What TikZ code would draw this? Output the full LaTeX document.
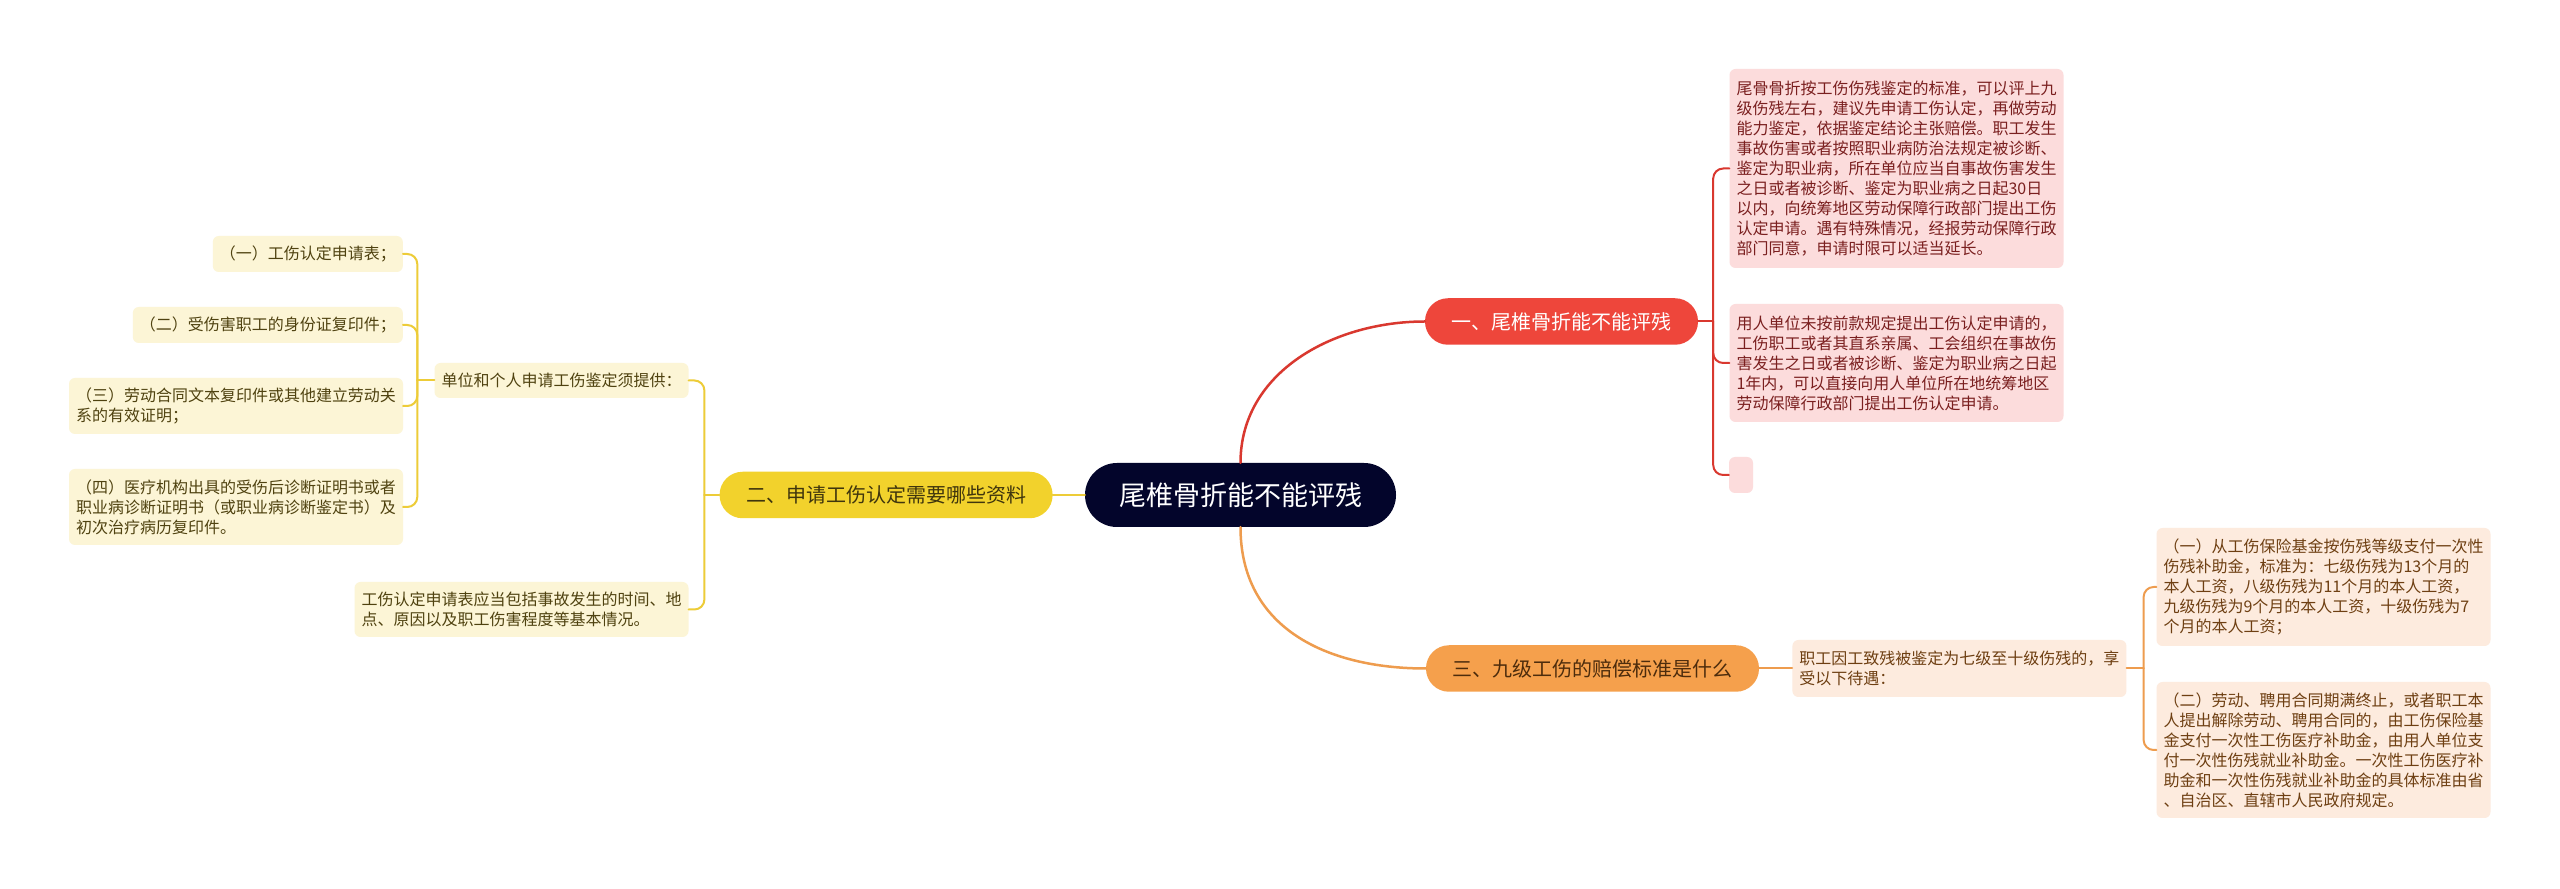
\documentclass[tikz,border=0pt]{standalone}
\usepackage{fontspec}
\setmainfont{Noto Sans CJK SC}
\usepackage{xcolor}
\usetikzlibrary{positioning}

\definecolor{rootbg}{HTML}{03052B}
\definecolor{redbg}{HTML}{EE463B}
\definecolor{redln}{HTML}{D9382F}
\definecolor{redleaf}{HTML}{FCDCDC}
\definecolor{redtx}{HTML}{7A1F1F}
\definecolor{yelbg}{HTML}{F2D22C}
\definecolor{yelln}{HTML}{EDCC38}
\definecolor{yelleaf}{HTML}{FCF5D6}
\definecolor{yeltx}{HTML}{4F4210}
\definecolor{orgbg}{HTML}{F5A04C}
\definecolor{orgln}{HTML}{EE9C4E}
\definecolor{orgleaf}{HTML}{FDEBDE}
\definecolor{orgtx}{HTML}{6E3F12}

\begin{document}
\begin{tikzpicture}[x=1pt, y=1pt, line cap=round,
  rootbox/.style={fill=rootbg, text=white, rounded corners=32pt, minimum width=311pt, minimum height=64pt, inner sep=0pt, font=\fontsize{27}{32}\selectfont},
  topic/.style={rounded corners=23pt, minimum height=46.5pt, inner xsep=26.5pt, inner ysep=0pt, font=\fontsize{20}{24}\selectfont},
  leaf/.style={rounded corners=6pt, inner xsep=7pt, inner ysep=0pt, align=left, font=\fontsize{16}{20}\selectfont},
  redleafbox/.style={leaf, fill=redleaf, text=redtx},
  yelleafbox/.style={leaf, fill=yelleaf, text=yeltx},
  orgleafbox/.style={leaf, fill=orgleaf, text=orgtx},
  branch/.style={line width=2.5pt},
  twig/.style={line width=2pt, rounded corners=10pt}]

\fill[white] (0,0) rectangle (2560,889);
\useasboundingbox (0,0) rectangle (2560,889);

% centre and the three topics
\node[rootbox] (root) at (1240.5,394) {尾椎骨折能不能评残};
\node[topic, fill=redbg, text=white] (b1) at (1561.5,567.5) {一、尾椎骨折能不能评残};
\node[topic, fill=yelbg, text=yeltx!80!black] (b2) [left=32pt of root] {二、申请工伤认定需要哪些资料};
\node[topic, fill=orgbg, text=orgtx!70!black] (b3) at (1592.5,220.5) {三、九级工伤的赔偿标准是什么};

% topic one
\node[redleafbox, text width=320pt, minimum height=199pt] (r1) at (1896.5,720.5) {尾骨骨折按工伤伤残鉴定的标准，可以评上九\\级伤残左右，建议先申请工伤认定，再做劳动\\能力鉴定，依据鉴定结论主张赔偿。职工发生\\事故伤害或者按照职业病防治法规定被诊断、\\鉴定为职业病，所在单位应当自事故伤害发生\\之日或者被诊断、鉴定为职业病之日起30日\\以内，向统筹地区劳动保障行政部门提出工伤\\认定申请。遇有特殊情况，经报劳动保障行政\\部门同意，申请时限可以适当延长。};
\node[redleafbox, text width=320pt, minimum height=118pt] (r2) at (1896.5,526) {用人单位未按前款规定提出工伤认定申请的，\\工伤职工或者其直系亲属、工会组织在事故伤\\害发生之日或者被诊断、鉴定为职业病之日起\\1年内，可以直接向用人单位所在地统筹地区\\劳动保障行政部门提出工伤认定申请。};
\node[redleafbox, minimum width=24pt, minimum height=36pt] (r3) at (1741,414) {};

% topic two
\node[yelleafbox, minimum height=35pt] (y0) at (561.5,508.5) {单位和个人申请工伤鉴定须提供：};
\node[yelleafbox, minimum height=36pt, anchor=east] (y1) at (403,635) {（一）工伤认定申请表；};
\node[yelleafbox, minimum height=36pt, anchor=east] (y2) at (403,564) {（二）受伤害职工的身份证复印件；};
\node[yelleafbox, text width=320pt, minimum height=56pt] (y3) at (236,483) {（三）劳动合同文本复印件或其他建立劳动关\\系的有效证明；};
\node[yelleafbox, text width=320pt, minimum height=76pt] (y4) at (236,382) {（四）医疗机构出具的受伤后诊断证明书或者\\职业病诊断证明书（或职业病诊断鉴定书）及\\初次治疗病历复印件。};
\node[yelleafbox, text width=320pt, minimum height=55pt] (y5) at (521.5,279.5) {工伤认定申请表应当包括事故发生的时间、地\\点、原因以及职工伤害程度等基本情况。};

% topic three
\node[orgleafbox, text width=320pt, minimum height=57pt] (o0) [right=33pt of b3] {职工因工致残被鉴定为七级至十级伤残的，享\\受以下待遇：};
\node[orgleafbox, text width=320pt, minimum height=118pt] (o1) at (2323.5,302) {（一）从工伤保险基金按伤残等级支付一次性\\伤残补助金，标准为：七级伤残为13个月的\\本人工资，八级伤残为11个月的本人工资，\\九级伤残为9个月的本人工资，十级伤残为7\\个月的本人工资；};
\node[orgleafbox, text width=320pt, minimum height=136pt] (o2) at (2323.5,139) {（二）劳动、聘用合同期满终止，或者职工本\\人提出解除劳动、聘用合同的，由工伤保险基\\金支付一次性工伤医疗补助金，由用人单位支\\付一次性伤残就业补助金。一次性工伤医疗补\\助金和一次性伤残就业补助金的具体标准由省\\、自治区、直辖市人民政府规定。};

\coordinate (j1) at ([xshift=15pt]b1.east);
\coordinate (j2) at ([xshift=-15pt]b2.west);
\coordinate (j0) at ([xshift=-17pt]y0.west);
\coordinate (j3) at ([xshift=17pt]o0.east);

% links from the centre
\path[branch, redln] (root.north) edge[out=90, in=180] (b1.west);
\path[branch, orgln] (root.south) edge[out=-90, in=180, looseness=1.1] (b3.west);
\path[branch, yelln] (root.west) edge (b2.east);

% brackets
\draw[twig, redln] (b1.east) -- (j1);
\draw[twig, redln] (j1) |- (r1.west);
\draw[twig, redln] (j1) |- (r2.west);
\draw[twig, redln] (j1) |- (r3.west);

\draw[twig, yelln] (b2.west) -- (j2);
\draw[twig, yelln] (j2) |- (y0.east);
\draw[twig, yelln] (j2) |- (y5.east);
\draw[twig, yelln] (y0.west) -- (j0);
\draw[twig, yelln] (j0) |- (y1.east);
\draw[twig, yelln] (j0) |- (y2.east);
\draw[twig, yelln] (j0) |- (y3.east);
\draw[twig, yelln] (j0) |- (y4.east);

\draw[twig, orgln] (b3.east) -- (o0.west);
\draw[twig, orgln] (o0.east) -- (j3);
\draw[twig, orgln] (j3) |- (o1.west);
\draw[twig, orgln] (j3) |- (o2.west);
\end{tikzpicture}
\end{document}
